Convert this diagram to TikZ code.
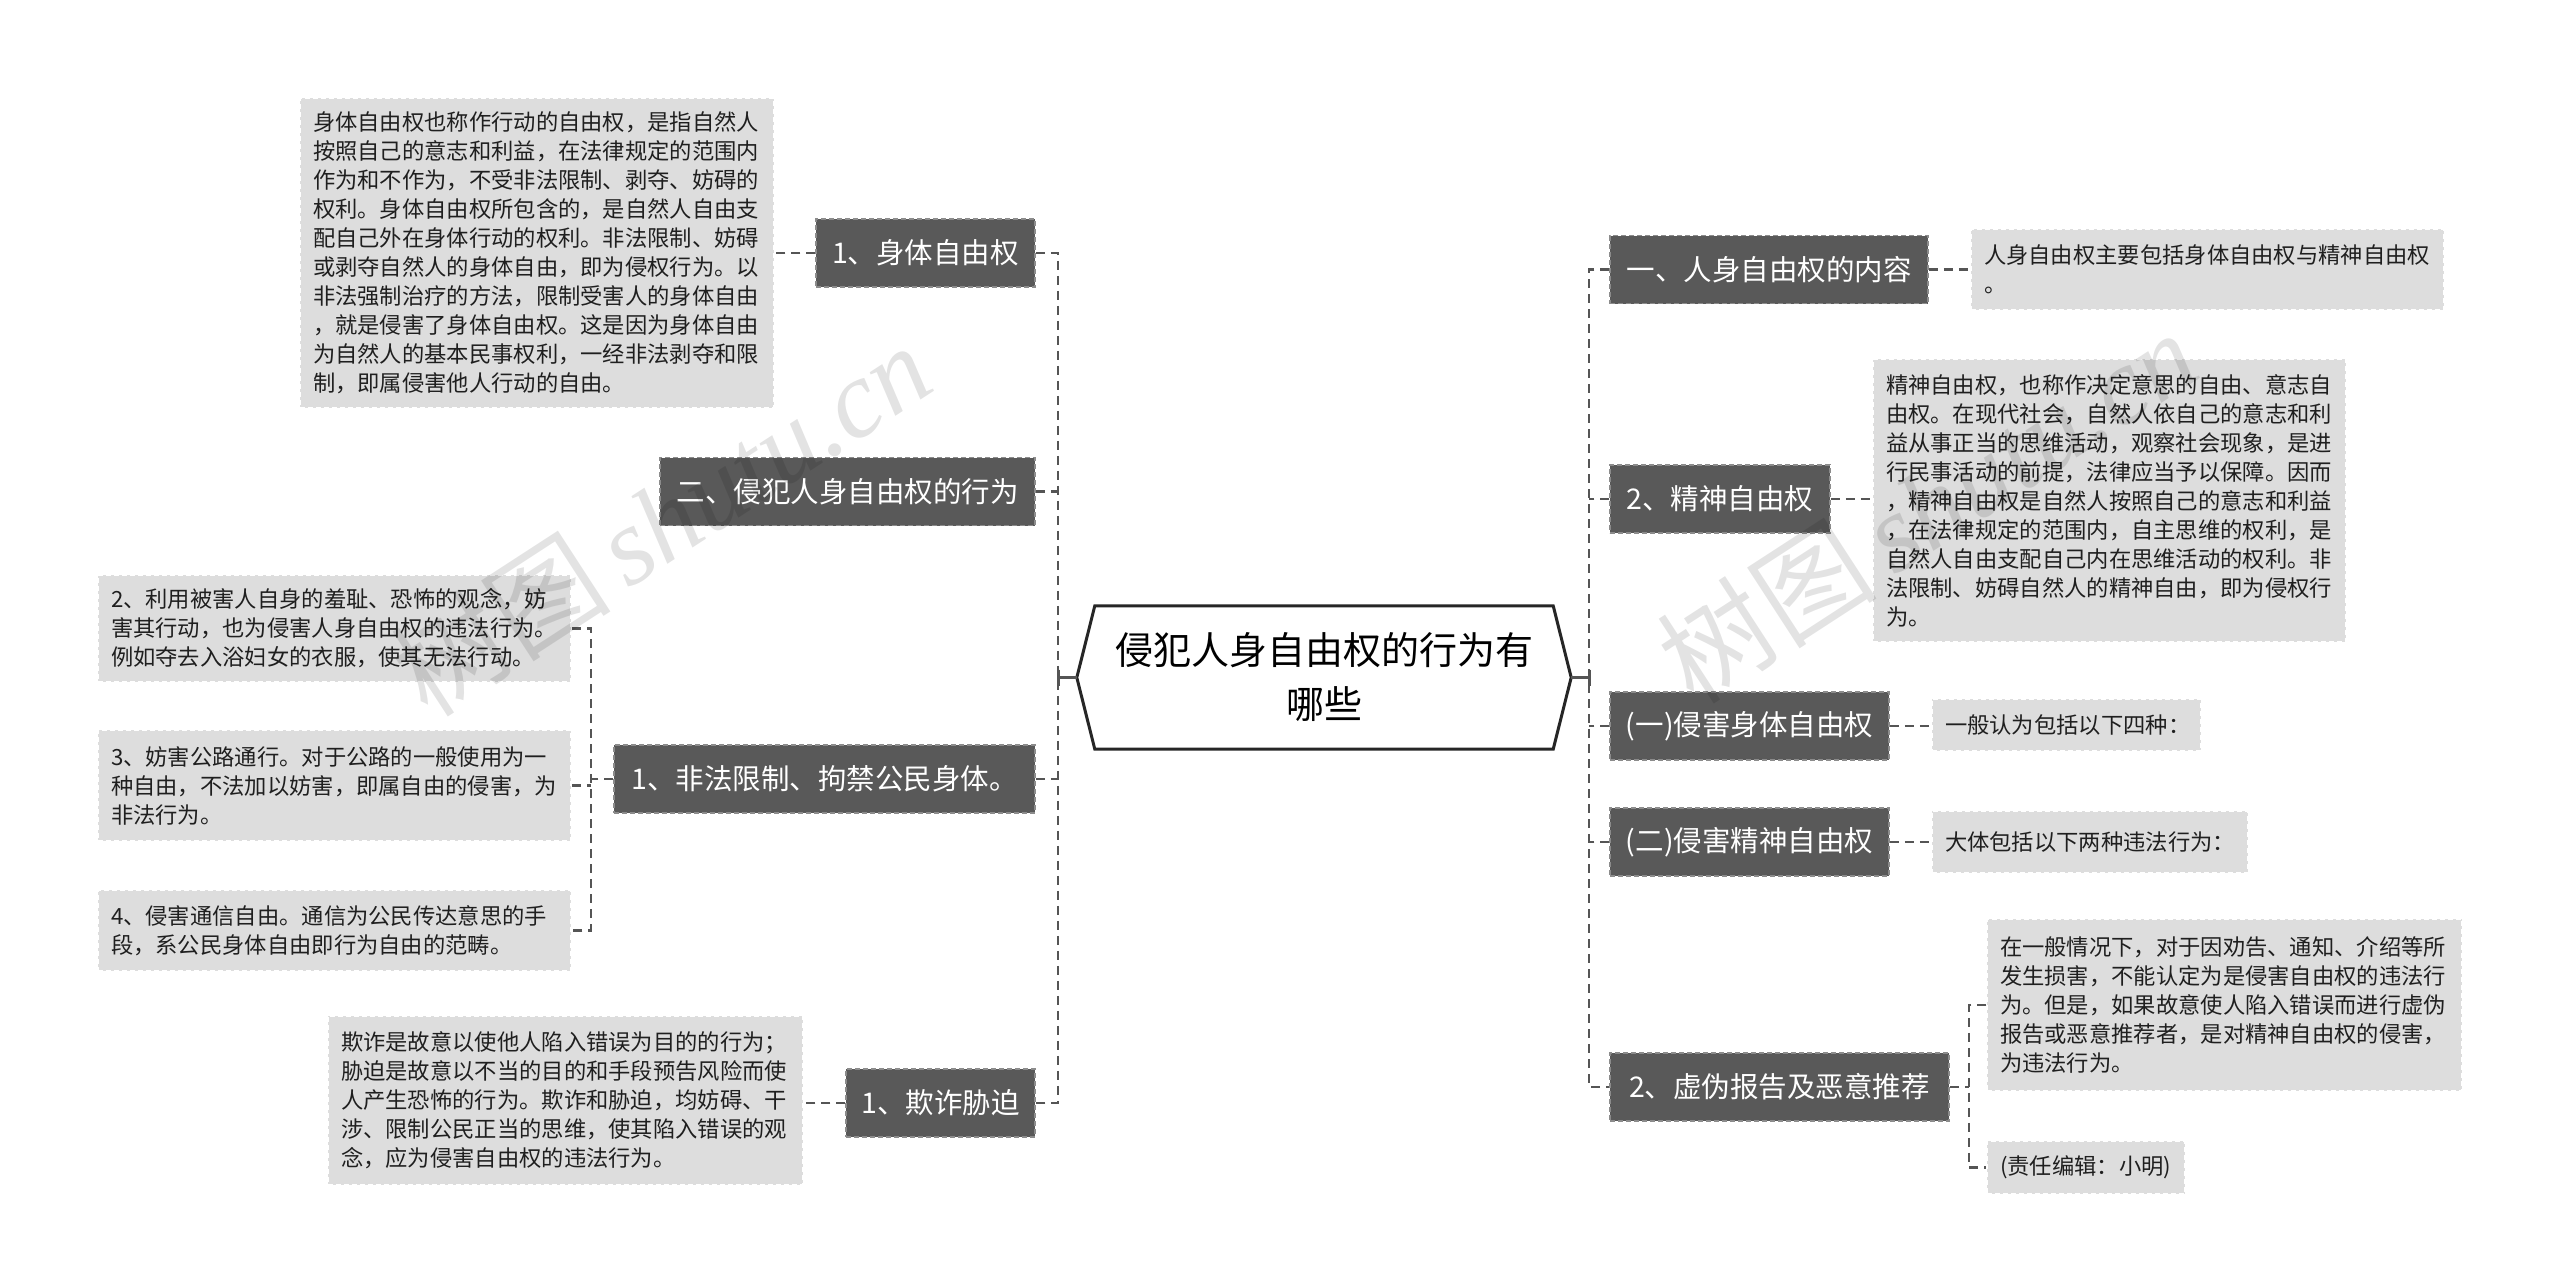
\documentclass[tikz,border=0pt]{standalone}
\usepackage{fontspec}
\setmainfont{Noto Sans CJK SC}
\newfontfamily\wmlatin{Liberation Serif}
\usetikzlibrary{calc}
\definecolor{darkbox}{HTML}{595959}
\definecolor{darkedge}{HTML}{8C8C8C}
\definecolor{leafbox}{HTML}{DDDDDD}
\definecolor{conn}{HTML}{555555}
\tikzset{
  darknode/.style={fill=darkbox, draw=darkedge, dash pattern=on 5pt off 3pt, line width=1.5pt,
    text=white, font=\fontsize{28.5}{34}\selectfont, minimum height=68pt, inner xsep=0pt, inner ysep=0pt},
  leafnode/.style={fill=leafbox, draw=white, dash pattern=on 5pt off 3pt, line width=1.5pt,
    text=black!88, font=\fontsize{22.3}{29}\selectfont, align=left, inner xsep=13pt, inner ysep=0pt},
  link/.style={draw=conn, line width=2.4pt, dash pattern=on 9pt off 6pt},
  rootlink/.style={draw=conn, line width=3pt},
  watermark/.style={text=black, opacity=0.11, font=\fontsize{110}{110}\selectfont, inner sep=0pt},
}
\begin{document}
\begin{tikzpicture}[x=1pt,y=-1pt]
\useasboundingbox (0,0) rectangle (2560,1288);
\fill[white] (0,0) rectangle (2560,1288);

\coordinate (tl) at (1058,0);
\coordinate (tr) at (1589,0);
\coordinate (st) at (591,0);
\coordinate (st2) at (1969,0);

% central node
\node[font=\fontsize{38}{54}\selectfont, align=center, minimum width=494pt, minimum height=143pt, inner sep=0pt] (C) at (1324,677.5) {侵犯人身自由权的行为有\\哪些};
\draw[line width=3pt, black!85, line join=miter] (C.west) -- ([xshift=18pt]C.north west) -- ([xshift=-18pt]C.north east) -- (C.east) -- ([xshift=-18pt]C.south east) -- ([xshift=18pt]C.south west) -- cycle;

% left dark nodes
\node[darknode, minimum width=219pt] (D1) at (925.5,253) {1、身体自由权};
\node[darknode, minimum width=375pt] (D2) at (847.5,491.5) {二、侵犯人身自由权的行为};
\node[darknode, minimum width=421pt] (D3) at (824.5,779) {1、非法限制、拘禁公民身体。};
\node[darknode, minimum width=189pt] (D4) at (940.5,1103) {1、欺诈胁迫};

% right dark nodes
\node[darknode, minimum width=318pt] (E1) at (1769,269.5) {一、人身自由权的内容};
\node[darknode, minimum width=220pt] (E2) at (1720,499) {2、精神自由权};
\node[darknode, minimum width=279pt] (E3) at (1749.5,726) {(一)侵害身体自由权};
\node[darknode, minimum width=279pt] (E4) at (1749.5,842) {(二)侵害精神自由权};
\node[darknode, minimum width=339pt] (E5) at (1779.5,1087) {2、虚伪报告及恶意推荐};

% left leaves
\node[leafnode, minimum width=474pt, minimum height=310pt, text width=448pt] (L1) at (537,253) {身体自由权也称作行动的自由权，是指自然人\\按照自己的意志和利益，在法律规定的范围内\\作为和不作为，不受非法限制、剥夺、妨碍的\\权利。身体自由权所包含的，是自然人自由支\\配自己外在身体行动的权利。非法限制、妨碍\\或剥夺自然人的身体自由，即为侵权行为。以\\非法强制治疗的方法，限制受害人的身体自由\\，就是侵害了身体自由权。这是因为身体自由\\为自然人的基本民事权利，一经非法剥夺和限\\制，即属侵害他人行动的自由。};
\node[leafnode, minimum width=473pt, minimum height=107pt, text width=447pt] (L2) at (334.5,628.5) {2、利用被害人自身的羞耻、恐怖的观念，妨\\害其行动，也为侵害人身自由权的违法行为。\\例如夺去入浴妇女的衣服，使其无法行动。};
\node[leafnode, minimum width=473pt, minimum height=111pt, text width=447pt] (L3) at (334.5,785.5) {3、妨害公路通行。对于公路的一般使用为一\\种自由，不法加以妨害，即属自由的侵害，为\\非法行为。};
\node[leafnode, minimum width=473pt, minimum height=81pt, text width=447pt] (L4) at (334.5,930.5) {4、侵害通信自由。通信为公民传达意思的手\\段，系公民身体自由即行为自由的范畴。};
\node[leafnode, minimum width=475pt, minimum height=169pt, text width=449pt] (L5) at (565.5,1100.5) {欺诈是故意以使他人陷入错误为目的的行为；\\胁迫是故意以不当的目的和手段预告风险而使\\人产生恐怖的行为。欺诈和胁迫，均妨碍、干\\涉、限制公民正当的思维，使其陷入错误的观\\念，应为侵害自由权的违法行为。};

% right leaves
\node[leafnode, minimum width=473pt, minimum height=81pt, text width=447pt] (R1) at (2207.5,269.5) {人身自由权主要包括身体自由权与精神自由权\\。};
\node[leafnode, minimum width=473pt, minimum height=283pt, text width=447pt] (R2) at (2109.5,500.5) {精神自由权，也称作决定意思的自由、意志自\\由权。在现代社会，自然人依自己的意志和利\\益从事正当的思维活动，观察社会现象，是进\\行民事活动的前提，法律应当予以保障。因而\\，精神自由权是自然人按照自己的意志和利益\\，在法律规定的范围内，自主思维的权利，是\\自然人自由支配自己内在思维活动的权利。非\\法限制、妨碍自然人的精神自由，即为侵权行\\为。};
\node[leafnode, minimum width=269pt, minimum height=52pt, text width=243pt] (R3) at (2066.5,725) {一般认为包括以下四种：};
\node[leafnode, minimum width=316pt, minimum height=62pt, text width=290pt] (R4) at (2090,842) {大体包括以下两种违法行为：};
\node[leafnode, minimum width=475pt, minimum height=172pt, text width=449pt] (R5) at (2224.5,1005) {在一般情况下，对于因劝告、通知、介绍等所\\发生损害，不能认定为是侵害自由权的违法行\\为。但是，如果故意使人陷入错误而进行虚伪\\报告或恶意推荐者，是对精神自由权的侵害，\\为违法行为。};
\node[leafnode, minimum width=198pt, minimum height=53pt, text width=172pt] (R6) at (2086,1167.5) {(责任编辑：小明)};

% root links
\draw[rootlink] (C.west) -- (C.west -| tl);
\draw[rootlink] ($(C.west -| tl)+(0,-8)$) -- ($(C.west -| tl)+(0,8)$);
\draw[rootlink] (C.east) -- (C.east -| tr);
\draw[rootlink] ($(C.east -| tr)+(0,-8)$) -- ($(C.east -| tr)+(0,8)$);

% left trunk
\draw[link] (D1.east) -- (D1.east -| tl) -- (D4.east -| tl) -- (D4.east);
\draw[link] (D2.east) -- (D2.east -| tl);
\draw[link] (D3.east) -- (D3.east -| tl);
% right trunk
\draw[link] (E1.west) -- (E1.west -| tr) -- (E5.west -| tr) -- (E5.west);
\draw[link] (E2.west) -- (E2.west -| tr);
\draw[link] (E3.west) -- (E3.west -| tr);
\draw[link] (E4.west) -- (E4.west -| tr);

% leaf links left
\draw[link] (D1.west) -- (L1.east);
\draw[link] (D4.west) -- (D4.west -| L5.east);
\draw[link] (D3.west) -- (D3.west -| st);
\draw[link] (L2.east) -- (L2.east -| st) -- (L4.east -| st) -- (L4.east);
\draw[link] (L3.east) -- (L3.east -| st);
% leaf links right
\draw[link] (E1.east) -- (R1.west);
\draw[link] (E2.east) -- (E2.east -| R2.west);
\draw[link] (E3.east) -- (E3.east -| R3.west);
\draw[link] (E4.east) -- (R4.west);
\draw[link] (E5.east) -- (E5.east -| st2);
\draw[link] (R5.west) -- (R5.west -| st2) -- (R6.west -| st2) -- (R6.west);

% watermarks
\node[watermark, rotate=33] (wm1) at (661,519) {树图\,{\wmlatin\itshape shutu.cn}};
\node[watermark, rotate=33] (wm2) at (1927,506) {树图\,{\wmlatin\itshape shutu.cn}};
\end{tikzpicture}
\end{document}
